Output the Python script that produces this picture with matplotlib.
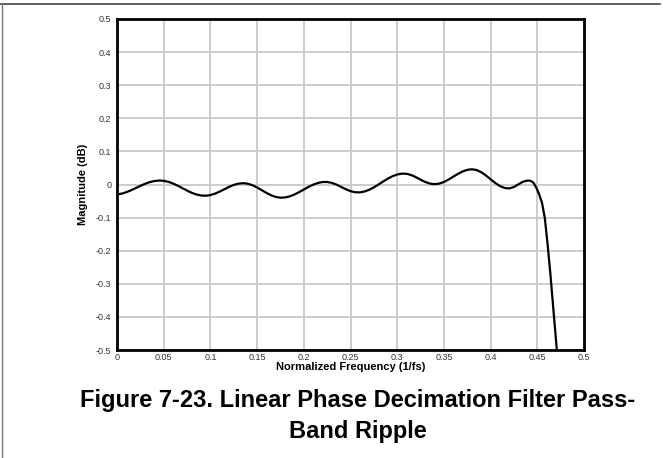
import matplotlib
matplotlib.use("Agg")
import matplotlib.pyplot as plt
from matplotlib.lines import Line2D

plt.rcParams['font.family'] = ['Liberation Sans', 'DejaVu Sans']

freq = [0.000, 0.005, 0.010, 0.015, 0.020, 0.025, 0.030, 0.035, 0.040, 0.045,
        0.050, 0.055, 0.060, 0.065, 0.070, 0.075, 0.080, 0.085, 0.090, 0.095,
        0.100, 0.105, 0.110, 0.115, 0.120, 0.125, 0.130, 0.135,
        0.140, 0.145, 0.150, 0.155, 0.160, 0.165, 0.170, 0.175,
        0.180, 0.185, 0.190, 0.195, 0.200, 0.205, 0.210, 0.215, 0.220,
        0.225, 0.230, 0.235, 0.240, 0.245, 0.250, 0.255,
        0.260, 0.265, 0.270, 0.275, 0.280, 0.285, 0.290, 0.295, 0.300, 0.305,
        0.310, 0.315, 0.320, 0.325, 0.330, 0.335,
        0.340, 0.345, 0.350, 0.355, 0.360, 0.365, 0.370, 0.375, 0.380,
        0.385, 0.390, 0.395, 0.400, 0.405, 0.410, 0.415,
        0.420, 0.425, 0.430, 0.435, 0.440,
        0.443, 0.446, 0.449, 0.452, 0.455, 0.458, 0.461, 0.464, 0.467, 0.470, 0.4715]
magnitude = [-0.0300, -0.0277, -0.0232, -0.0174, -0.0109, -0.0041, 0.0020, 0.0071, 0.0105, 0.0120,
             0.0112, 0.0081, 0.0030, -0.0036, -0.0110, -0.0184, -0.0250, -0.0301, -0.0332, -0.0340,
             -0.0320, -0.0276, -0.0214, -0.0143, -0.0072, -0.0013, 0.0026, 0.0040,
             0.0024, -0.0021, -0.0090, -0.0172, -0.0254, -0.0326, -0.0377, -0.0399,
             -0.0391, -0.0358, -0.0302, -0.0231, -0.0152, -0.0074, -0.0005, 0.0046, 0.0075,
             0.0077, 0.0049, -0.0004, -0.0073, -0.0143, -0.0201, -0.0234,
             -0.0238, -0.0212, -0.0160, -0.0087, 0.0000, 0.0091, 0.0177, 0.0250, 0.0302, 0.0328,
             0.0323, 0.0286, 0.0222, 0.0147, 0.0077, 0.0028,
             0.0010, 0.0027, 0.0076, 0.0149, 0.0235, 0.0321, 0.0394, 0.0443, 0.0460,
             0.0437, 0.0371, 0.0273, 0.0158, 0.0046, -0.0047, -0.0105,
             -0.0119, -0.0075, 0.0009, 0.0088, 0.0120,
             0.0110, 0.0050, -0.0100, -0.0300, -0.0550, -0.1000, -0.1800, -0.2700, -0.3700, -0.4700, -0.5200]

x_ticks = [0, 0.05, 0.1, 0.15, 0.2, 0.25, 0.3, 0.35, 0.4, 0.45, 0.5]
x_tick_labels = ['0', '0.05', '0.1', '0.15', '0.2', '0.25', '0.3', '0.35', '0.4', '0.45', '0.5']
y_ticks = [-0.5, -0.4, -0.3, -0.2, -0.1, 0, 0.1, 0.2, 0.3, 0.4, 0.5]
y_tick_labels = ['-0.5', '-0.4', '-0.3', '-0.2', '-0.1', '0', '0.1', '0.2', '0.3', '0.4', '0.5']

x_label = 'Normalized Frequency (1/fs)'
y_label = 'Magnitude (dB)'
caption = 'Figure 7-23. Linear Phase Decimation Filter Pass-\nBand Ripple'

fig = plt.figure(figsize=(6.63, 4.58), dpi=100)
ax = fig.add_axes([117/663, 1-350/458, (584-117)/663, (350-19)/458])

ax.plot(freq, magnitude, color='black', lw=1.6, solid_capstyle='butt', clip_on=True)
ax.set_xlim(0, 0.5)
ax.set_ylim(-0.5, 0.5)
ax.set_xticks(x_ticks)
ax.set_xticklabels(x_tick_labels)
ax.set_yticks(y_ticks)
ax.set_yticklabels(y_tick_labels)
ax.tick_params(length=0, labelsize=6.5, colors='#333333')
ax.tick_params(axis='x', pad=2)
ax.tick_params(axis='y', pad=4)
ax.grid(True, color='#c8c8c8', lw=1.3)
ax.set_axisbelow(True)
for s in ax.spines.values():
    s.set_linewidth(2)
    s.set_color('black')
ax.set_xlabel(x_label, fontsize=8, fontweight='bold', labelpad=0)
ax.set_ylabel(y_label, fontsize=8, fontweight='bold', labelpad=6)

fig.text(358/663, 1-416/458, caption, ha='center', va='center', fontsize=17,
         fontweight='bold', linespacing=1.42)

fig.add_artist(Line2D([0, 660/663], [1-4/458, 1-4/458], color='#444444', lw=1.2))
fig.add_artist(Line2D([1.5/663, 1.5/663], [0, 1-4/458], color='#777777', lw=1.0))

fig.savefig('out.png', dpi=100)
